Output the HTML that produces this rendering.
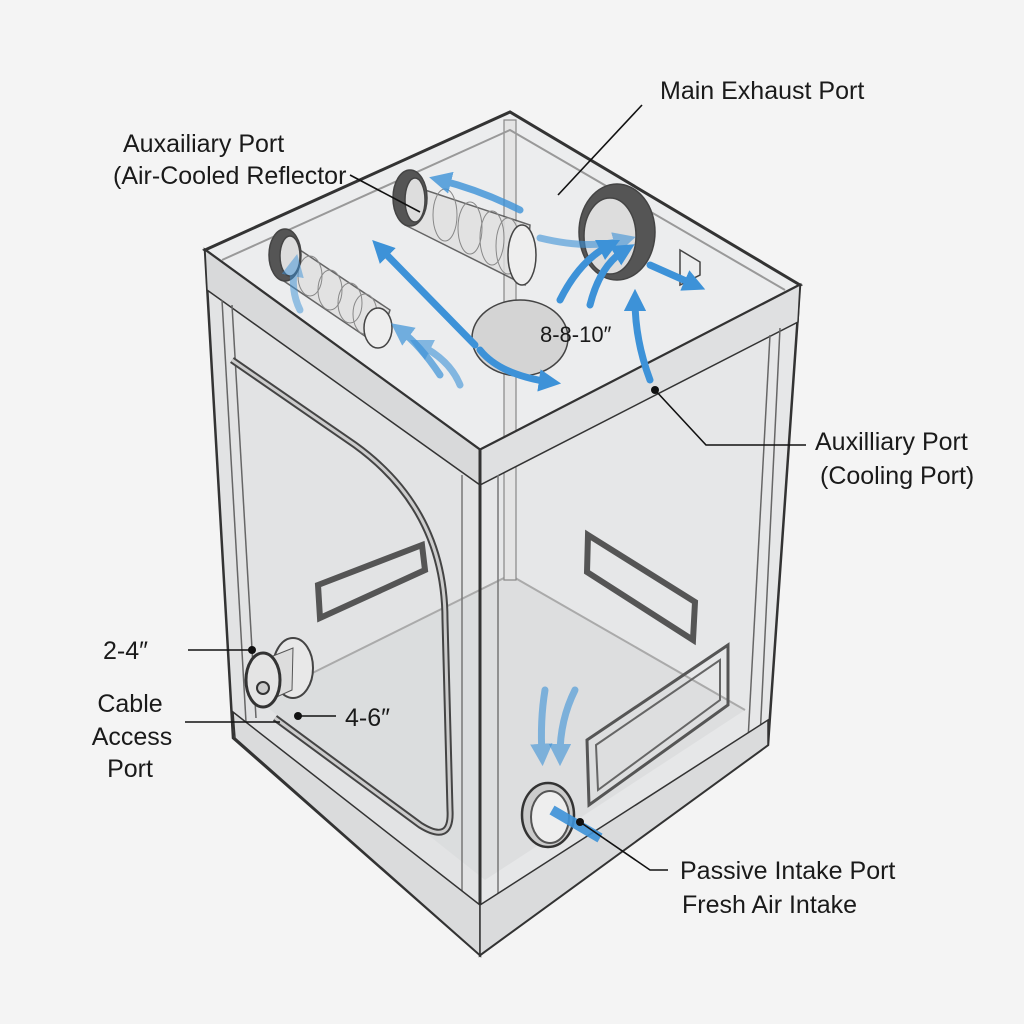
<!DOCTYPE html>
<html><head><meta charset="utf-8"><style>
html,body{margin:0;padding:0;background:#f4f4f4;}
svg{display:block}
text{font-family:"Liberation Sans",sans-serif;fill:#1a1a1a;}
</style></head><body>
<svg width="1024" height="1024" viewBox="0 0 1024 1024" xmlns="http://www.w3.org/2000/svg">
<defs>
<marker id="ah" viewBox="0 0 10 10" refX="5" refY="5" markerWidth="3.2" markerHeight="3.2" orient="auto"><path d="M0,0 L10,5 L0,10 Z" fill="#3d92d8"/></marker>
</defs>
<rect width="1024" height="1024" fill="#f4f4f4"/>

<polygon points="205,250 510,112 800,285 480,450" fill="#ecedee"/>
<polygon points="205,250 480,450 480,955 233,738" fill="#e2e3e4" stroke="#333" stroke-width="2.5"/>
<polygon points="480,450 800,285 768,745 480,955" fill="#e6e7e8" stroke="#333" stroke-width="2.5"/>
<polygon points="258,700 510,575 745,710 485,880" fill="#d9dadb" opacity="0.7"/>
<line x1="510" y1="575" x2="258" y2="700" stroke="#aaa" stroke-width="2"/>
<line x1="510" y1="575" x2="745" y2="710" stroke="#aaa" stroke-width="2"/>
<rect x="504" y="120" width="12" height="460" fill="#e4e4e4" stroke="#888" stroke-width="1.2"/>

<polygon points="205,250 510,112 800,285 480,450" fill="none" stroke="#333" stroke-width="3"/>
<polygon points="205,250 480,450 480,485 207,290" fill="#d8d9da" stroke="#333" stroke-width="1.5"/>
<polygon points="480,450 800,285 798,322 480,485" fill="#dfe0e1" stroke="#333" stroke-width="1.5"/>
<polyline points="222,260 510,130 785,290" fill="none" stroke="#999" stroke-width="2"/>

<line x1="480" y1="450" x2="480" y2="955" stroke="#333" stroke-width="3"/>
<line x1="462" y1="475" x2="462" y2="925" stroke="#777" stroke-width="1.5"/>
<line x1="498" y1="475" x2="498" y2="925" stroke="#777" stroke-width="1.5"/>
<line x1="222" y1="300" x2="246" y2="722" stroke="#666" stroke-width="1.5"/>
<line x1="232" y1="305" x2="256" y2="718" stroke="#666" stroke-width="1.5"/>
<line x1="770" y1="335" x2="748" y2="740" stroke="#666" stroke-width="1.5"/>
<line x1="780" y1="328" x2="760" y2="738" stroke="#666" stroke-width="1.5"/>
<polygon points="233,712 480,905 480,955 235,738" fill="#dadbdc" stroke="#333" stroke-width="1.5"/>
<polygon points="480,905 768,720 768,745 480,955" fill="#dadbdc" stroke="#333" stroke-width="1.5"/>

<path d="M232,360 L355,445 Q445,510 445,620 L450,810 Q452,845 420,825 L275,718" fill="none" stroke="#444" stroke-width="7"/>
<path d="M232,360 L355,445 Q445,510 445,620 L450,810 Q452,845 420,825 L275,718" fill="none" stroke="#ccc" stroke-width="3"/>
<polygon points="318,585 422,545 425,570 320,618" fill="none" stroke="#555" stroke-width="6"/>
<polygon points="588,535 695,602 693,640 587,572" fill="none" stroke="#555" stroke-width="6"/>
<polygon points="587,740 728,645 728,705 589,805" fill="none" stroke="#555" stroke-width="3"/>
<polygon points="596,745 720,660 720,700 598,790" fill="none" stroke="#666" stroke-width="2"/>

<ellipse cx="293" cy="668" rx="20" ry="30" fill="#e8e8e8" stroke="#444" stroke-width="2"/>
<polygon points="268,658 293,648 292,690 270,700" fill="#ddd" stroke="#555"/>
<ellipse cx="263" cy="680" rx="17" ry="27" fill="#e4e4e4" stroke="#333" stroke-width="3"/>
<circle cx="263" cy="688" r="6" fill="#ccc" stroke="#333" stroke-width="2"/>
<ellipse cx="548" cy="815" rx="26" ry="32" fill="#ccc" stroke="#333" stroke-width="2.5"/>
<ellipse cx="550" cy="817" rx="19" ry="26" fill="#eee" stroke="#555" stroke-width="2"/>
<line x1="552" y1="810" x2="600" y2="838" stroke="#3d92d8" stroke-width="10" opacity="0.9"/>

<g stroke="#444" stroke-width="1.5">
<polygon points="285,240 390,310 378,345 275,275" fill="#e0e0e0" opacity="0.8"/>
<g fill="none" stroke="#888" stroke-width="1"><ellipse cx="310" cy="276" rx="12" ry="20"/><ellipse cx="330" cy="290" rx="12" ry="20"/><ellipse cx="350" cy="303" rx="12" ry="20"/><ellipse cx="365" cy="314" rx="12" ry="20"/></g>
<ellipse cx="378" cy="328" rx="14" ry="20" fill="#eee"/>
<ellipse cx="285" cy="255" rx="16" ry="26" fill="#555"/>
<ellipse cx="290" cy="256" rx="10" ry="20" fill="#ddd"/>
<polygon points="410,185 530,225 525,285 405,225" fill="#e0e0e0" opacity="0.8"/>
<g fill="none" stroke="#888" stroke-width="1"><ellipse cx="445" cy="215" rx="12" ry="26"/><ellipse cx="470" cy="228" rx="12" ry="26"/><ellipse cx="492" cy="238" rx="12" ry="27"/><ellipse cx="508" cy="246" rx="12" ry="28"/></g>
<ellipse cx="522" cy="255" rx="14" ry="30" fill="#eee"/>
<ellipse cx="410" cy="198" rx="17" ry="28" fill="#555"/>
<ellipse cx="415" cy="200" rx="10" ry="22" fill="#ddd"/>
<ellipse cx="617" cy="232" rx="38" ry="48" fill="#555"/>
<ellipse cx="610" cy="236" rx="26" ry="38" fill="#ddd"/>
<ellipse cx="520" cy="338" rx="48" ry="38" fill="#d4d4d4"/>
<polygon points="680,250 700,262 700,275 680,285" fill="none"/>
</g>
<text x="540" y="342" font-size="22">8-8-10″</text>

<g fill="none" stroke="#3d92d8" stroke-width="7" marker-end="url(#ah)" stroke-linecap="round">
<path d="M475,345 L380,248"/>
<path d="M480,350 Q500,375 550,382"/>
<path d="M540,238 Q590,250 625,240" opacity="0.6"/>
<path d="M520,210 Q480,190 440,180" opacity="0.8"/>
<path d="M560,300 Q580,260 610,245"/>
<path d="M590,305 Q600,265 625,250"/>
<path d="M650,265 L695,285"/>
<path d="M650,380 Q635,340 635,300"/>
<path d="M440,375 Q420,345 400,330" opacity="0.7"/>
<path d="M460,385 Q450,360 420,345" opacity="0.6"/>
<path d="M300,310 Q290,290 295,265" opacity="0.5"/>
<path d="M545,690 Q540,720 542,755" opacity="0.6"/>
<path d="M575,690 Q560,720 560,755" opacity="0.6"/>
</g>

<g stroke="#111" stroke-width="1.6" fill="none">
<line x1="642" y1="105" x2="558" y2="195"/>
<line x1="350" y1="175" x2="420" y2="212"/>
<polyline points="655,390 706,445 806,445"/>
<line x1="188" y1="650" x2="252" y2="650"/>
<line x1="185" y1="722" x2="280" y2="722"/>
<line x1="298" y1="716" x2="336" y2="716"/>
<polyline points="580,822 650,870 668,870"/>
</g>
<g fill="#111"><circle cx="655" cy="390" r="4"/><circle cx="252" cy="650" r="4"/><circle cx="298" cy="716" r="4"/><circle cx="580" cy="822" r="4"/></g>

<text x="660" y="99" font-size="25">Main Exhaust Port</text>
<text x="123" y="152" font-size="25">Auxailiary Port</text>
<text x="113" y="184" font-size="25">(Air-Cooled Reflector</text>
<text x="815" y="450" font-size="25">Auxilliary Port</text>
<text x="820" y="484" font-size="25">(Cooling Port)</text>
<text x="103" y="659" font-size="25">2-4″</text>
<text x="130" y="712" font-size="25" text-anchor="middle">Cable</text>
<text x="132" y="745" font-size="25" text-anchor="middle">Access</text>
<text x="130" y="777" font-size="25" text-anchor="middle">Port</text>
<text x="345" y="726" font-size="25">4-6″</text>
<text x="680" y="879" font-size="25">Passive Intake Port</text>
<text x="682" y="913" font-size="25">Fresh Air Intake</text>
</svg>
</body></html>
